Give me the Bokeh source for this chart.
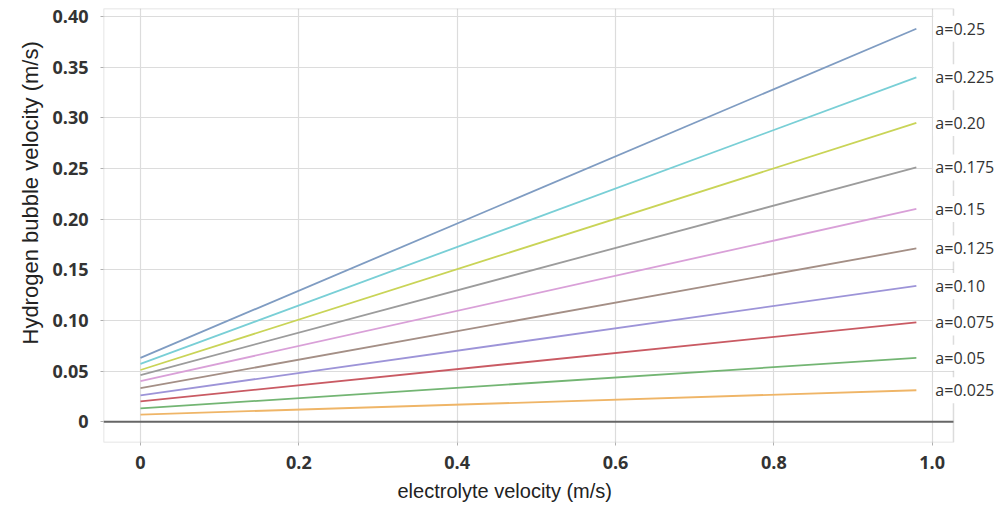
from bokeh.plotting import figure
from bokeh.models import Range1d, Label, FixedTicker, BoxAnnotation, Title, Span
from bokeh.embed import file_html
from bokeh.resources import INLINE

# Data
labels = ["a=0.25", "a=0.225", "a=0.20", "a=0.175", "a=0.15",
          "a=0.125", "a=0.10", "a=0.075", "a=0.05", "a=0.025"]
x_start = 0.0
x_end = 0.98
v_start = [0.063, 0.057, 0.051, 0.046, 0.040, 0.033, 0.026, 0.020, 0.013, 0.007]
v_end = [0.388, 0.340, 0.295, 0.251, 0.210, 0.171, 0.134, 0.098, 0.063, 0.031]
colors = ["#7f9cc2", "#79cfd6", "#c9d457", "#9c9c9c", "#d9a0d8",
          "#a48f86", "#9d94d8", "#c95a63", "#73b573", "#efb567"]

x_ticks = [0, 0.2, 0.4, 0.6, 0.8, 1.0]
x_tick_labels = ["0", "0.2", "0.4", "0.6", "0.8", "1.0"]
y_ticks = [0, 0.05, 0.10, 0.15, 0.20, 0.25, 0.30, 0.35, 0.40]
y_tick_labels = ["0", "0.05", "0.10", "0.15", "0.20", "0.25", "0.30", "0.35", "0.40"]

# visible plot box (data units)
X0, X1, Y0, Y1 = -0.0467, 1.0269, -0.0206, 0.408
XMAX = 1.0787

p = figure(width=994, height=509, output_backend="svg", toolbar_location=None,
           x_range=Range1d(X0, XMAX), y_range=Range1d(Y0, Y1),
           min_border_left=103, min_border_right=0, min_border_top=8, min_border_bottom=67)

p.outline_line_color = None
p.background_fill_color = "white"
p.border_fill_color = "white"

for ax in (p.xaxis[0], p.yaxis[0]):
    ax.axis_line_color = None
    ax.major_tick_line_color = "#b0b0b0"
    ax.minor_tick_line_color = None
    ax.major_tick_in = 0
    ax.major_tick_out = 3
    ax.major_label_text_font = "Open Sans"
    ax.major_label_text_font_style = "bold"
    ax.major_label_text_font_size = "18px"
    ax.major_label_text_color = "#333333"

p.xaxis.ticker = FixedTicker(ticks=x_ticks)
p.xaxis.major_label_overrides = {t: l for t, l in zip(x_ticks, x_tick_labels)}
p.yaxis.ticker = FixedTicker(ticks=y_ticks)
p.yaxis.major_label_overrides = {t: l for t, l in zip(y_ticks, y_tick_labels)}
p.xaxis.major_label_standoff = 10
p.yaxis.major_label_standoff = 12

xt = Title(text="electrolyte velocity (m/s)", align="left", offset=294,
           text_font="Liberation Sans", text_font_style="normal", text_font_size="20px",
           text_color="#222222", standoff=13)
p.add_layout(xt, "below")
yt = Title(text="Hydrogen bubble velocity (m/s)", align="left", offset=98,
           text_font="Liberation Sans", text_font_style="normal", text_font_size="22px",
           text_color="#222222", standoff=10, vertical_align="top")
p.add_layout(yt, "left")

p.grid.grid_line_color = "#dcdcdc"
p.grid.grid_line_width = 1.2

# zero line
p.add_layout(Span(location=0, dimension="width", line_color="#666666", line_width=2,
                  level="underlay"))
# blank strip right of the plot box (hides grid lines and zero line there)
p.add_layout(BoxAnnotation(left=X1, right=XMAX, bottom=Y0, top=Y1, fill_color="white",
                           fill_alpha=1.0, line_color=None, level="annotation"))
# plot box border
p.add_layout(BoxAnnotation(left=X0, right=X1, bottom=Y0, top=Y1, fill_color=None,
                           fill_alpha=0, line_color="#8c8c8c", line_width=1.5, level="annotation"))

for lab, s, e, c in zip(labels, v_start, v_end, colors):
    p.line([x_start, x_end], [s, e], line_color=c, line_width=1.8)
    p.add_layout(Label(x=x_end, y=e, text=lab, x_offset=17, text_baseline="middle",
                       text_align="left", text_font="Open Sans", text_font_size="16px",
                       text_color="#333333", background_fill_color="white", padding=2))

open("out.html", "w").write(file_html(p, INLINE))
